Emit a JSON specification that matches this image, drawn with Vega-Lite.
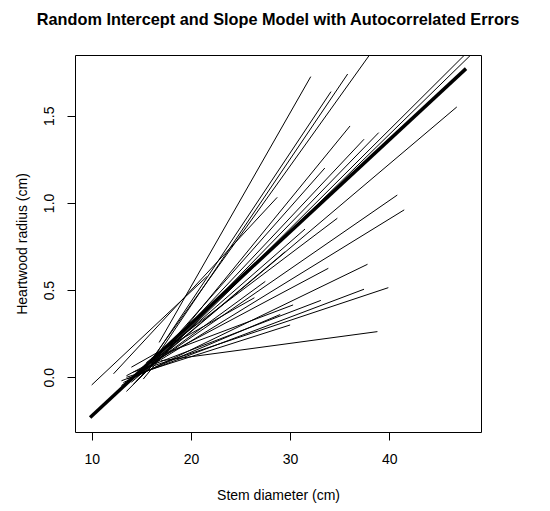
{
  "$schema": "https://vega.github.io/schema/vega-lite/v6.json",
  "width": 406,
  "height": 377,
  "autosize": {"type": "none"},
  "padding": {"left": 75, "top": 55, "right": 69, "bottom": 79},
  "background": "white",
  "config": {
    "font": "Liberation Sans",
    "view": {"stroke": "black", "strokeWidth": 1},
    "axis": {"grid": false, "domain": false, "tickColor": "black", "tickSize": 8, "labelFont": "Liberation Sans", "titleFont": "Liberation Sans", "labelFontSize": 14, "titleFontSize": 14, "titleFontWeight": "normal", "labelColor": "black", "titleColor": "black"}
  },
  "title": {"text": "Random Intercept and Slope Model with Autocorrelated Errors", "fontSize": 16.3, "fontWeight": "bold", "font": "Liberation Sans", "anchor": "middle", "offset": 27, "color": "black"},
  "datasets": {
    "trees": [
      {"id": "t1", "x": 10.0, "y": -0.044}, {"id": "t1", "x": 21.6, "y": 0.577},
      {"id": "t2", "x": 16.8, "y": 0.20}, {"id": "t2", "x": 32.08, "y": 1.724},
      {"id": "t3", "x": 16.0, "y": 0.074}, {"id": "t3", "x": 35.8, "y": 1.739},
      {"id": "t4", "x": 16.2, "y": 0.109}, {"id": "t4", "x": 34.12, "y": 1.638},
      {"id": "t5", "x": 15.5, "y": 0.059}, {"id": "t5", "x": 39.5, "y": 1.967},
      {"id": "t6", "x": 15.2, "y": -0.01}, {"id": "t6", "x": 36.04, "y": 1.441},
      {"id": "t7", "x": 14.2, "y": -0.04}, {"id": "t7", "x": 37.45, "y": 1.365},
      {"id": "t8", "x": 14.8, "y": -0.008}, {"id": "t8", "x": 38.93, "y": 1.403},
      {"id": "t9", "x": 13.5, "y": -0.081}, {"id": "t9", "x": 48.5, "y": 1.90},
      {"id": "t10", "x": 14.5, "y": -0.023}, {"id": "t10", "x": 48.6, "y": 1.87},
      {"id": "t11", "x": 14.0, "y": -0.028}, {"id": "t11", "x": 46.8, "y": 1.55},
      {"id": "t12", "x": 13.0, "y": -0.047}, {"id": "t12", "x": 40.8, "y": 1.045},
      {"id": "t13", "x": 14.0, "y": -0.0025}, {"id": "t13", "x": 41.5, "y": 0.96},
      {"id": "t14", "x": 15.5, "y": 0.084}, {"id": "t14", "x": 34.76, "y": 0.912},
      {"id": "t15", "x": 13.2, "y": -0.03}, {"id": "t15", "x": 37.8, "y": 0.648},
      {"id": "t16", "x": 13.5, "y": 0.009}, {"id": "t16", "x": 33.85, "y": 0.625},
      {"id": "t17", "x": 15.5, "y": 0.052}, {"id": "t17", "x": 39.9, "y": 0.514},
      {"id": "t18", "x": 13.0, "y": -0.02}, {"id": "t18", "x": 37.45, "y": 0.505},
      {"id": "t19", "x": 14.2, "y": 0.03}, {"id": "t19", "x": 33.1, "y": 0.441},
      {"id": "t20", "x": 16.0, "y": 0.108}, {"id": "t20", "x": 30.3, "y": 0.415},
      {"id": "t21", "x": 17.0, "y": 0.095}, {"id": "t21", "x": 38.8, "y": 0.262},
      {"id": "t23", "x": 14.0, "y": 0.058}, {"id": "t23", "x": 26.4, "y": 0.456},
      {"id": "t24", "x": 12.2, "y": 0.02}, {"id": "t24", "x": 28.7, "y": 1.032},
      {"id": "t25", "x": 13.6, "y": -0.01}, {"id": "t25", "x": 29.0, "y": 0.36},
      {"id": "t26", "x": 14.5, "y": 0.0}, {"id": "t26", "x": 29.5, "y": 0.72},
      {"id": "t27", "x": 15.0, "y": 0.03}, {"id": "t27", "x": 31.5, "y": 0.85},
      {"id": "t28", "x": 13.8, "y": -0.02}, {"id": "t28", "x": 27.5, "y": 0.55},
      {"id": "t29", "x": 13.5, "y": 0.0}, {"id": "t29", "x": 30.0, "y": 0.30},
      {"id": "t30", "x": 15.8, "y": 0.06}, {"id": "t30", "x": 33.5, "y": 1.20}
    ],
    "mean": [
      {"id": "mean", "x": 9.84, "y": -0.23}, {"id": "mean", "x": 47.73, "y": 1.77}
    ]
  },
  "layer": [
    {
      "data": {"name": "trees"},
      "mark": {"type": "line", "color": "black", "strokeWidth": 1, "clip": true},
      "encoding": {
        "x": {"field": "x", "type": "quantitative", "scale": {"domain": [8.317, 49.24], "nice": false, "zero": false},
          "axis": {"values": [10, 20, 30, 40], "title": "Stem diameter (cm)", "labelPadding": 12, "titlePadding": 22, "labelFlush": false}},
        "y": {"field": "y", "type": "quantitative", "scale": {"domain": [-0.3136, 1.848], "nice": false, "zero": false},
          "axis": {"values": [0, 0.5, 1, 1.5], "format": ".1f", "title": "Heartwood radius (cm)", "labelAngle": -90, "labelAlign": "center", "labelBaseline": "bottom", "labelPadding": 11, "titlePadding": 13, "labelFlush": false}},
        "detail": {"field": "id"}
      }
    },
    {
      "data": {"name": "mean"},
      "mark": {"type": "line", "color": "black", "strokeWidth": 3.5, "clip": true},
      "encoding": {
        "x": {"field": "x", "type": "quantitative"},
        "y": {"field": "y", "type": "quantitative"},
        "detail": {"field": "id"}
      }
    }
  ]
}
